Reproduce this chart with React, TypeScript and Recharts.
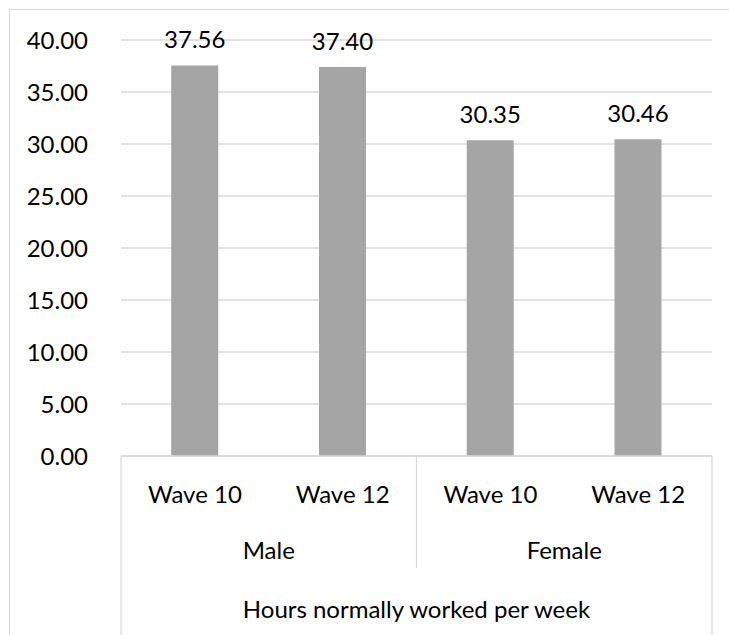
import { BarChart, Bar, XAxis, YAxis, CartesianGrid, LabelList } from 'recharts';

const waves = ['Wave 10', 'Wave 12', 'Wave 10', 'Wave 12'];
const groups = ['Male', 'Male', 'Female', 'Female'];
const hours = [37.56, 37.4, 30.35, 30.46];
const yTicks = [0, 5, 10, 15, 20, 25, 30, 35, 40];
const axisTitle = 'Hours normally worked per week';

const data = waves.map((wave, i) => ({ wave, group: groups[i], hours: hours[i] }));

const W = 729;
const H = 635;
const MARGIN = { top: 40, right: 17, left: 0, bottom: 0 };
const Y_AXIS_W = 121;
const X_AXIS_H = 179;
const BAND = (W - MARGIN.left - MARGIN.right - Y_AXIS_W) / waves.length;
const FONT = 'Lato, "Open Sans", sans-serif';
const FS = 24;
const TEXT = '#000000';
const LINE = '#d9d9d9';
const BAR = '#a5a5a5';

function CategoryTick(props: any) {
  const { x, y, index, payload } = props;
  const left = x - BAND / 2;
  const right = x + BAND / 2;
  const first = index === 0 || groups[index] !== groups[index - 1];
  const last = index === waves.length - 1;
  return (
    <g>
      <text x={x} y={y + 37} textAnchor="middle" dominantBaseline="central" fontSize={FS} fill={TEXT} fontFamily={FONT}>
        {payload.value}
      </text>
      {first && (
        <>
          <line x1={left} x2={left} y1={y} y2={index === 0 ? y + 200 : y + 112} stroke={LINE} strokeWidth={1.3} />
          <text x={left + BAND} y={y + 93} textAnchor="middle" dominantBaseline="central" fontSize={FS} fill={TEXT} fontFamily={FONT}>
            {groups[index]}
          </text>
        </>
      )}
      {index === 0 && (
        <text x={left + (BAND * waves.length) / 2} y={y + 152} textAnchor="middle" dominantBaseline="central" fontSize={FS} fill={TEXT} fontFamily={FONT}>
          {axisTitle}
        </text>
      )}
      {last && <line x1={right} x2={right} y1={y} y2={y + 200} stroke={LINE} strokeWidth={1.3} />}
    </g>
  );
}

export default function App() {
  return (
    <div style={{ position: 'fixed', left: 0, top: 0, width: W, height: H, overflow: 'hidden', background: '#fff' }}>
      <div
        style={{
          position: 'absolute',
          left: 9,
          top: 9,
          width: W,
          height: H,
          border: `1px solid ${LINE}`,
          boxSizing: 'border-box',
        }}
      />
      <div style={{ position: 'absolute', left: 0, top: 0 }}>
        <BarChart width={W} height={H} data={data} margin={MARGIN} barCategoryGap="34%">
          <CartesianGrid stroke={LINE} strokeWidth={1.3} vertical={false} />
          <XAxis
            dataKey="wave"
            interval={0}
            height={X_AXIS_H}
            tickLine={false}
            tickSize={0}
            tickMargin={0}
            axisLine={{ stroke: LINE, strokeWidth: 1.3 }}
            tick={<CategoryTick />}
          />
          <YAxis
            width={Y_AXIS_W}
            domain={[0, 40]}
            ticks={yTicks}
            interval={0}
            axisLine={false}
            tickLine={false}
            tickSize={0}
            tickMargin={33}
            tickFormatter={(v: number) => v.toFixed(2)}
            tick={{ fontSize: FS, fill: TEXT, fontFamily: FONT }}
          />
          <Bar dataKey="hours" fill={BAR} isAnimationActive={false}>
            <LabelList
              dataKey="hours"
              position="top"
              offset={17}
              formatter={(v: any) => Number(v).toFixed(2)}
              style={{ fontSize: FS, fill: TEXT, fontFamily: FONT }}
            />
          </Bar>
        </BarChart>
      </div>
    </div>
  );
}
